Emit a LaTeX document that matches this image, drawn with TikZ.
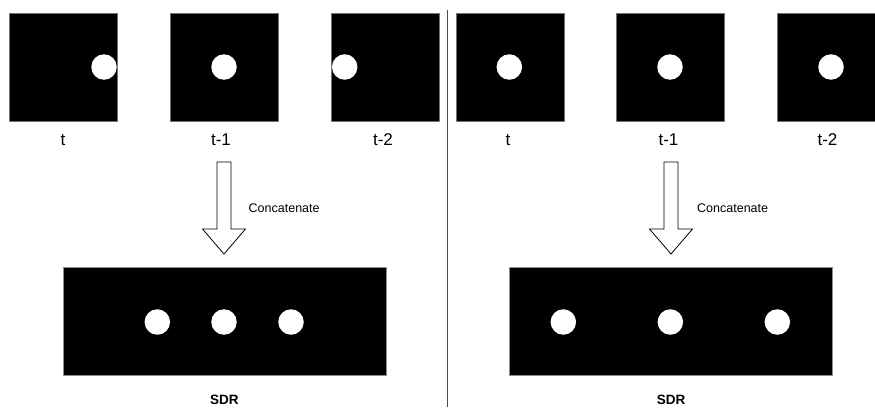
\documentclass[tikz,border=0pt]{standalone}
\usepackage{fontspec}
\setmainfont{Liberation Sans}
\begin{document}
\begin{tikzpicture}[x=1pt,y=-1pt,
  frame/.style={rectangle,draw=black!55,line width=0.4pt,fill=black,minimum size=108pt,inner sep=0pt,outer sep=0pt},
  cell/.style={rectangle,draw=none,fill=black,minimum size=108pt,inner sep=0pt,outer sep=0pt},
  strip/.style={draw=black!45,line width=0.4pt},
  dot/.style={circle,fill=white,draw=none,minimum size=25.5pt,inner sep=0pt},
  lbl/.style={font=\fontsize{17}{19}\selectfont,inner sep=0pt},
  cat/.style={font=\fontsize{12.5}{14}\selectfont,inner sep=0pt,anchor=west},
  sdr/.style={font=\bfseries\fontsize{13.5}{15}\selectfont,inner sep=0pt},
  blockarrow/.style={draw=black,line width=0.8pt,fill=white,line join=miter},
  divider/.style={draw=black!70,line width=0.9pt}]
\useasboundingbox (0,0) rectangle (875,407);

% ---------- left half ----------
\node[frame] (L1) at (63.5,67) {};
\node[frame] (L2) at (224,67) {};
\node[frame] (L3) at (385,67) {};
\node[dot] (L1d) at (104,67) {};
\node[dot] (L2d) at (224,67) {};
\node[dot] (L3d) at (344.7,67) {};
\node[lbl] (L1t) at (63,140) {t};
\node[lbl] (L2t) at (221,140) {t-1};
\node[lbl] (L3t) at (383,140) {t-2};

\coordinate (LA) at (224,162);
\draw[blockarrow] (LA) ++(-7,0) -- ++(0,67) -- ++(-14.5,0) -- ++(21.5,25) -- ++(21.5,-25) -- ++(-14.5,0) -- ++(0,-67) -- cycle;
\node[cat] (Lcat) at (248.5,208) {Concatenate};

\node[cell] (LS1) at (116.7,321.5) {};
\node[cell] (LS2) at (224.5,321.5) {};
\node[cell] (LS3) at (332.3,321.5) {};
\draw[strip] (LS1.north west) rectangle (LS3.south east);
\node[dot] (LS1d) at (157.3,322) {};
\node[dot] (LS2d) at (224,322) {};
\node[dot] (LS3d) at (291,322) {};
\node[sdr] (Lsdr) at (224.3,399.5) {SDR};

% ---------- divider ----------
\coordinate (Vt) at (447.5,10);
\coordinate (Vb) at (447.5,407);
\draw[divider] (Vt) -- (Vb);

% ---------- right half ----------
\node[frame] (R1) at (510,67) {};
\node[frame] (R2) at (670.6,67) {};
\node[frame] (R3) at (831,67) {};
\node[dot] (R1d) at (509.3,67) {};
\node[dot] (R2d) at (670,67) {};
\node[dot] (R3d) at (831,67) {};
\node[lbl] (R1t) at (508,140) {t};
\node[lbl] (R2t) at (668.5,140) {t-1};
\node[lbl] (R3t) at (827.5,140) {t-2};

\coordinate (RA) at (671,162);
\draw[blockarrow] (RA) ++(-7,0) -- ++(0,67) -- ++(-14.5,0) -- ++(21.5,25) -- ++(21.5,-25) -- ++(-14.5,0) -- ++(0,-67) -- cycle;
\node[cat] (Rcat) at (697,208) {Concatenate};

\node[cell] (RS1) at (563.3,321.5) {};
\node[cell] (RS2) at (671.3,321.5) {};
\node[cell] (RS3) at (778.5,321.5) {};
\draw[strip] (RS1.north west) rectangle (RS3.south east);
\node[dot] (RS1d) at (563.3,322) {};
\node[dot] (RS2d) at (670.3,322) {};
\node[dot] (RS3d) at (777.3,322) {};
\node[sdr] (Rsdr) at (671,399.5) {SDR};
\end{tikzpicture}
\end{document}
